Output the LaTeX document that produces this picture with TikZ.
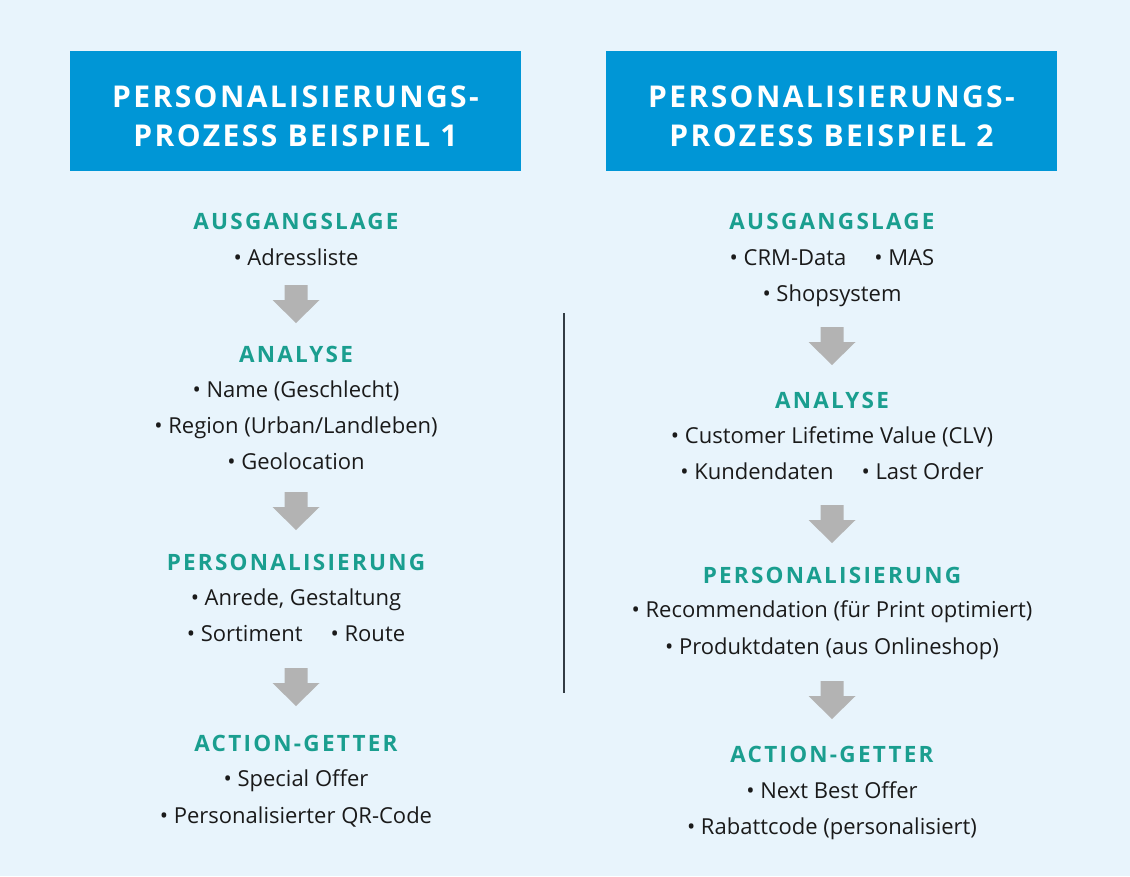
\documentclass[tikz,border=0pt]{standalone}
\usepackage{fontspec}
\setmainfont{Open Sans}
\usetikzlibrary{positioning}

\definecolor{bgblue}{HTML}{E8F4FC}
\definecolor{titleblue}{HTML}{0096D6}
\definecolor{headteal}{HTML}{1A9E8F}
\definecolor{arrowgray}{HTML}{B3B3B3}
\definecolor{rulegray}{HTML}{333C44}
\definecolor{itemblack}{HTML}{1A1A1A}

\tikzset{
  titlebox/.style={fill=titleblue, minimum width=451pt, minimum height=120pt, inner sep=0pt},
  titletext/.style={text=white, inner sep=0pt, align=center,
    font=\fontsize{30}{39}\selectfont\bfseries\addfontfeatures{LetterSpace=8}},
  stage/.style={text=headteal, anchor=base, inner sep=0pt,
    font=\fontsize{22.5}{26}\selectfont\bfseries\addfontfeatures{LetterSpace=10}},
  item/.style={text=itemblack, anchor=base, inner sep=0pt,
    font=\fontsize{22}{26}\selectfont},
}

\begin{document}
\begin{tikzpicture}[x=1pt,y=-1pt]
    \fill[bgblue] (0,0) rectangle (1130,876);
    \useasboundingbox (0,0) rectangle (1130,876);

    % titles
    \node[titlebox] (title1) at (295.5,111) {};
    \node[titletext] (title1-text) at ([yshift=-5pt]title1.center) {PERSONALISIERUNGS-\\PROZESS BEISPIEL 1};
    \node[titlebox] (title2) at (831.5,111) {};
    \node[titletext] (title2-text) at ([yshift=-5pt]title2.center) {PERSONALISIERUNGS-\\PROZESS BEISPIEL 2};

    % left column
    \node[stage] (l-lage) at (296,229) {AUSGANGSLAGE};
    \node[item] (l-lage-1) at (296,265) {• Adressliste};

    \node[stage] (l-analyse) at (296,362) {ANALYSE};
    \node[item] (l-analyse-1) at (296,397) {• Name (Geschlecht)};
    \node[item] (l-analyse-2) at (296,433) {• Region (Urban/Landleben)};
    \node[item] (l-analyse-3) at (296,469) {• Geolocation};

    \node[stage] (l-pers) at (296,570) {PERSONALISIERUNG};
    \node[item] (l-pers-1) at (296,605) {• Anrede, Gestaltung};
    \node[item] (l-pers-2) at (296,641) {• Sortiment\hspace{28pt}• Route};

    \node[stage] (l-action) at (296,751) {ACTION-GETTER};
    \node[item] (l-action-1) at (296,786) {• Special Offer};
    \node[item] (l-action-2) at (296,823) {• Personalisierter QR-Code};

    % right column
    \node[stage] (r-lage) at (832,229) {AUSGANGSLAGE};
    \node[item] (r-lage-1) at (832,265) {• CRM-Data\hspace{28pt}• MAS};
    \node[item] (r-lage-2) at (832,301) {• Shopsystem};

    \node[stage] (r-analyse) at (832,408) {ANALYSE};
    \node[item] (r-analyse-1) at (832,443) {• Customer Lifetime Value (CLV)};
    \node[item] (r-analyse-2) at (832,479) {• Kundendaten\hspace{28pt}• Last Order};

    \node[stage] (r-pers) at (832,583) {PERSONALISIERUNG};
    \node[item] (r-pers-1) at (832,617) {• Recommendation (für Print optimiert)};
    \node[item] (r-pers-2) at (832,654) {• Produktdaten (aus Onlineshop)};

    \node[stage] (r-action) at (832,762) {ACTION-GETTER};
    \node[item] (r-action-1) at (832,798) {• Next Best Offer};
    \node[item] (r-action-2) at (832,834) {• Rabattcode (personalisiert)};

    % gray block arrows
    \foreach \x/\y in {296/285, 296/492, 296/668, 832/327, 832/505, 832/681}
    {\fill[arrowgray] (\x-11.5,\y) -- (\x+11.5,\y) -- (\x+11.5,\y+15) -- (\x+23.5,\y+15)
        -- (\x,\y+38) -- (\x-23.5,\y+15) -- (\x-11.5,\y+15) -- cycle;}

    % divider
    \draw[rulegray, line width=2pt] (564,313) -- (564,693);

  \end{tikzpicture}
\end{document}
